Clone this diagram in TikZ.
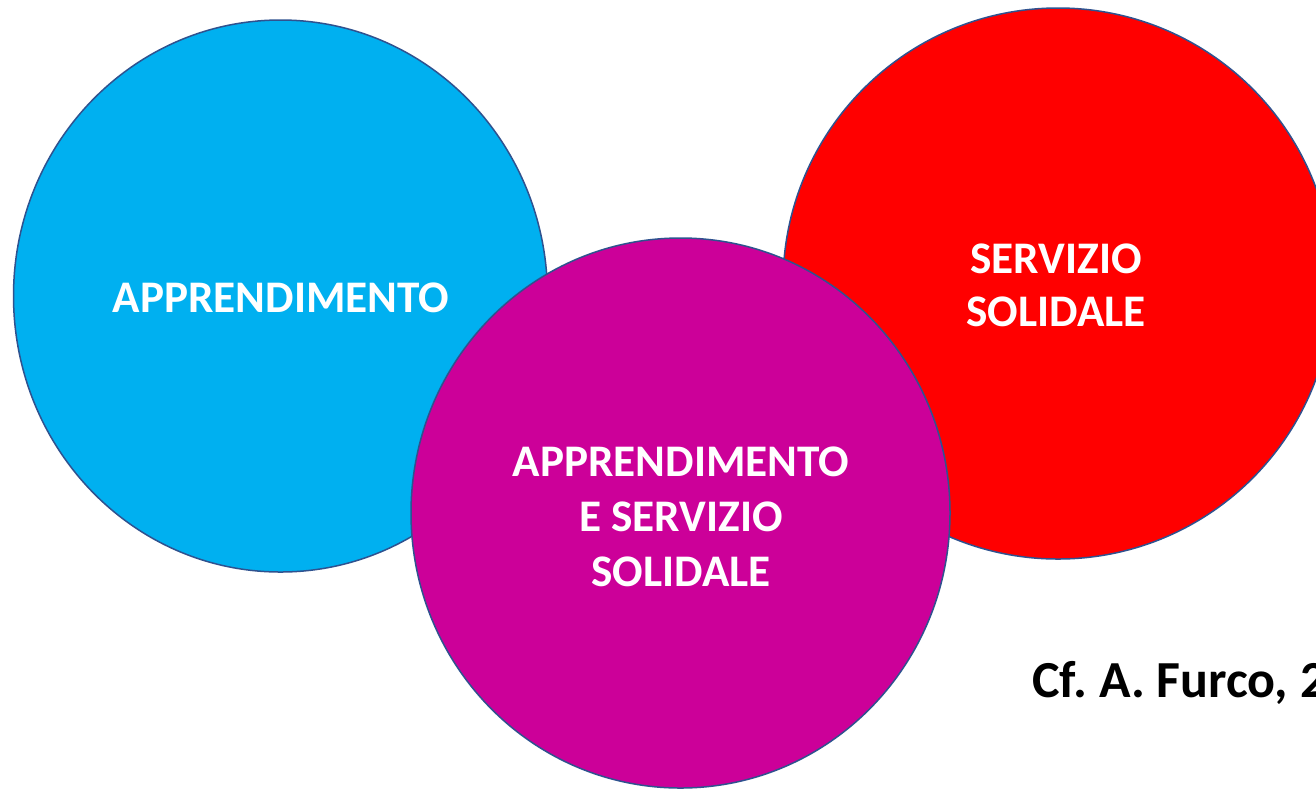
\documentclass[tikz,border=0pt]{standalone}
\usepackage{fontspec}
\setmainfont{Carlito}
\frenchspacing
\definecolor{cblue}{HTML}{00B0F0}
\definecolor{cred}{HTML}{FF0000}
\definecolor{cmag}{HTML}{CC0099}
\definecolor{cline}{HTML}{2F528F}
\begin{document}
\begin{tikzpicture}[x=0.5pt,y=-0.5pt,
  disc/.style={draw=cline,line width=0.75pt},
  lbl/.style={text=white,font=\fontsize{22.6}{27.5}\selectfont\bfseries,align=center,inner sep=0pt,anchor=center},
  note/.style={text=black,font=\fontsize{26}{30}\selectfont\bfseries,inner sep=0pt,anchor=base west}]
\useasboundingbox (0,0) rectangle (1316,789);
\clip (0,0) rectangle (1316,789);
\fill[white] (0,0) rectangle (1316,789);
\draw[disc,fill=cblue] (280.5,296) ellipse [x radius=267, y radius=276];
\draw[disc,fill=cred] (1058,283.5) ellipse [x radius=275, y radius=275.5];
\draw[disc,fill=cmag] (680.5,513) ellipse [x radius=269.5, y radius=275];
\node[lbl] (appr) at (281,298) {APPRENDIMENTO};
\node[lbl,font=\fontsize{22.6}{26.5}\selectfont\bfseries] (serv) at (1056,285) {SERVIZIO\\SOLIDALE};
\node[lbl] (apse) at (681,517) {APPRENDIMENTO\\E SERVIZIO\\SOLIDALE};
\node[note] (cite) at (1032,697) {Cf.\ A. Furco, 2};
\end{tikzpicture}
\end{document}
